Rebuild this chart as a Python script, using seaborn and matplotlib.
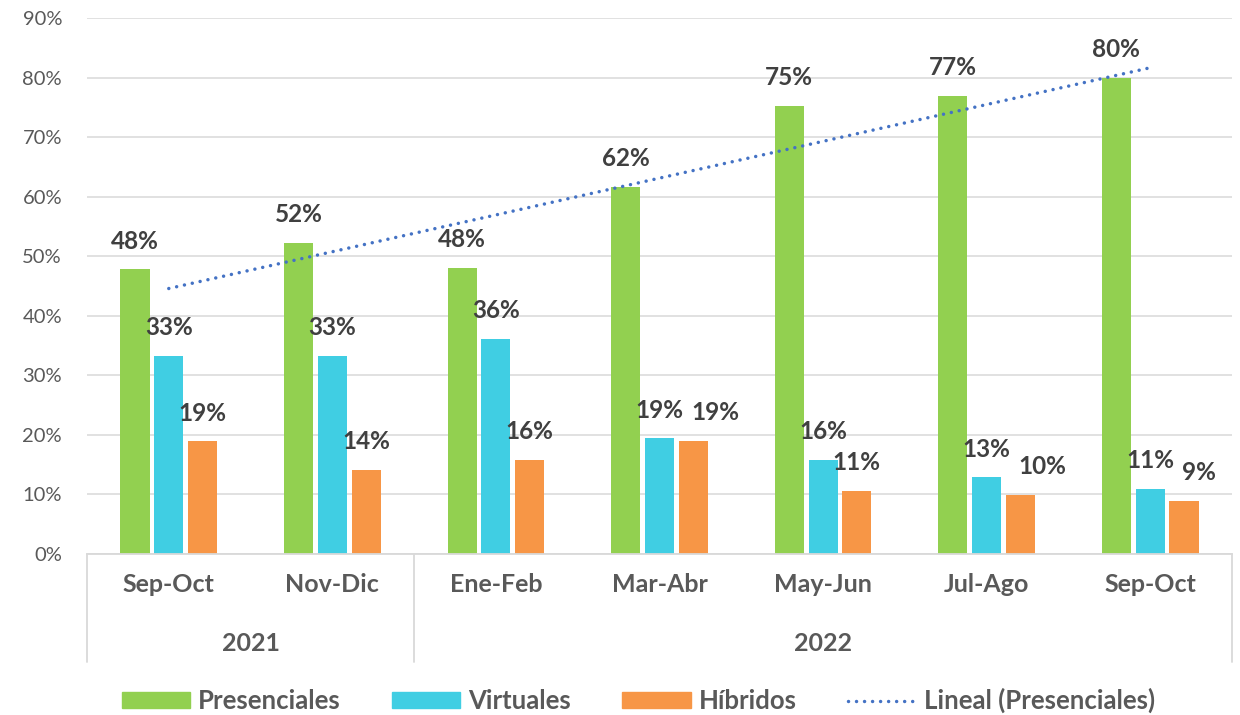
import numpy as np
import pandas as pd
import seaborn as sns
import matplotlib.pyplot as plt
from matplotlib.patches import Patch
from matplotlib.lines import Line2D
from matplotlib.ticker import FuncFormatter

# datos
periodos = ["Sep-Oct", "Nov-Dic", "Ene-Feb", "Mar-Abr", "May-Jun", "Jul-Ago", "Sep-Oct"]
anios = ["2021", "2021", "2022", "2022", "2022", "2022", "2022"]
tipos = ["Presenciales", "Virtuales", "Híbridos"]
presenciales = [47.8, 52.3, 48.0, 61.6, 75.2, 76.9, 80.0]
virtuales = [33.3, 33.3, 36.1, 19.4, 15.8, 12.9, 10.9]
hibridos = [18.9, 14.1, 15.8, 19.0, 10.6, 9.9, 8.9]

colores = ["#92D050", "#40CEE3", "#F79646"]
gris = "#595959"

sns.set_theme(style="white")
plt.rcParams["font.family"] = ["Lato", "DejaVu Sans"]

claves = [p + " " + a for p, a in zip(periodos, anios)]
df = pd.DataFrame({
    "periodo": claves * 3,
    "tipo": np.repeat(tipos, len(claves)),
    "valor": presenciales + virtuales + hibridos,
})

fig = plt.figure(figsize=(12.4, 7.15), dpi=100)
ax = fig.add_axes([87 / 1240, 161 / 715, 1145 / 1240, 536 / 715])

sns.barplot(data=df, x="periodo", y="valor", hue="tipo", order=claves,
            hue_order=tipos, palette=colores, saturation=1, width=0.62, gap=0.14,
            linewidth=0, errorbar=None, legend=False, ax=ax)

# etiquetas de datos
etiquetas = []
for cont in ax.containers:
    etiquetas.append(ax.bar_label(cont, labels=[f"{b.get_height():.0f}%" for b in cont],
                                  padding=12, fontsize=17.5, fontweight="bold",
                                  color="#404040"))

# linea de tendencia
xs = np.arange(len(presenciales))
m, b = np.polyfit(xs, presenciales, 1)
ax.plot(xs, m * xs + b, color="#4472C4", lw=2.5,
        linestyle=(0, (0.01, 2.3)), dash_capstyle="round", zorder=4)

ax.set_xlim(-0.5, len(periodos) - 0.5)
ax.set_ylim(0, 90)
ax.set_yticks(range(0, 91, 10))
ax.yaxis.set_major_formatter(FuncFormatter(lambda v, p: f"{v:.0f}%"))
ax.grid(axis="y", color="#D9D9D9", lw=1.1)
ax.set_axisbelow(True)
for s in ["left", "right", "top"]:
    ax.spines[s].set_visible(False)
ax.spines["bottom"].set_color("#D9D9D9")
ax.spines["bottom"].set_linewidth(1.3)

ax.set_xlabel("")
ax.set_ylabel("")
ax.set_xticks(xs)
ax.set_xticklabels(periodos, fontsize=18, fontweight="bold", color=gris)
ax.tick_params(axis="x", length=0, pad=14)
ax.tick_params(axis="y", length=0, pad=18, labelsize=14.5, labelcolor=gris)

# eje de dos niveles: anios
trans = ax.get_xaxis_transform()
grupos = list(dict.fromkeys(anios))
limites = [-0.5]
for g in grupos:
    idx = [i for i, a in enumerate(anios) if a == g]
    ax.text(np.mean(idx), -0.167, g, transform=trans, ha="center", va="center",
            fontsize=18, fontweight="bold", color=gris)
    limites.append(max(idx) + 0.5)
for x in limites:
    ax.plot([x, x], [0, -0.202], transform=trans, color="#D9D9D9", lw=1.3,
            clip_on=False)

# separar etiquetas de hibridos que chocan con las de virtuales
fig.canvas.draw()
for izq, der in zip(etiquetas[1], etiquetas[2]):
    a = izq.get_window_extent()
    d = der.get_window_extent()
    if d.x0 < a.x1 + 4 and d.y0 < a.y1 and a.y0 < d.y1:
        dx = (a.x1 + 8 - d.x0) * 72 / fig.dpi
        ox, oy = der.xyann
        der.xyann = (ox + dx, oy)

handles = [Patch(color=c, label=t) for c, t in zip(colores, tipos)]
handles.append(Line2D([0], [0], color="#4472C4", lw=2.5,
                      linestyle=(0, (0.01, 2.3)), dash_capstyle="round",
                      label="Lineal (Presenciales)"))
leg = fig.legend(handles=handles, loc="center", bbox_to_anchor=(0.515, 0.02),
                 ncol=4, frameon=False, handlelength=2.65, handleheight=0.58,
                 handletextpad=0.31, columnspacing=2.0,
                 prop={"size": 18.5, "weight": "bold"})
for t in leg.get_texts():
    t.set_color(gris)

fig.savefig("out.png", dpi=100)
